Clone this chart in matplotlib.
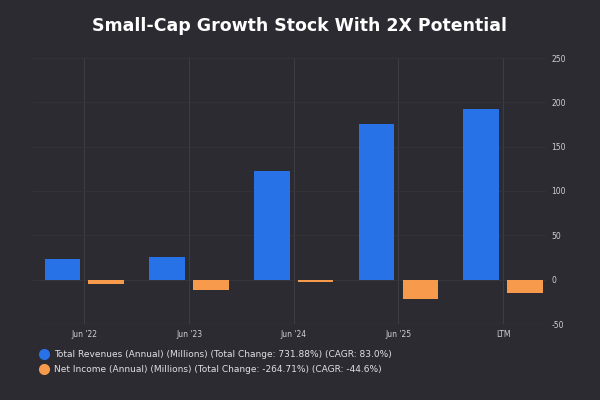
import matplotlib
matplotlib.use("Agg")
import matplotlib.pyplot as plt
import numpy as np
from matplotlib.lines import Line2D

categories = ["Jun '22", "Jun '23", "Jun '24", "Jun '25", "LTM"]
revenues = [23.5, 26, 122.5, 176, 193]
net_income = [-4.5, -12, -3, -21.5, -15]
yticks = [-50, 0, 50, 100, 150, 200, 250]

bg = "#2b2b31"
fig = plt.figure(figsize=(6, 4), dpi=100, facecolor=bg)
ax = fig.add_axes([0.055, 0.19, 0.855, 0.665], facecolor=bg)
x = np.arange(len(categories))
w = 0.34
ax.bar(x - 0.21, revenues, w, color="#2872e8", zorder=3)
ax.bar(x + 0.21, net_income, w, color="#f79a4c", zorder=3)
ax.set_xlim(-0.49, 4.41)
ax.set_ylim(-50, 250)
ax.set_xticks(x)
ax.set_xticklabels(categories, color="#cfcfd4", fontsize=5.5)
ax.set_yticks(yticks)
ax.set_yticklabels([str(v) for v in yticks], color="#cfcfd4", fontsize=5.5)
ax.yaxis.tick_right()
ax.tick_params(length=0, pad=4)
for s in ax.spines.values():
    s.set_visible(False)
ax.grid(axis="x", color="#3c3c44", lw=0.8, zorder=0)
ax.grid(axis="y", color="#34343b", lw=0.6, zorder=0)
ax.axhline(-50, color="#55555c", lw=0.8)
ax.axhline(0, color="#44444b", lw=0.6, zorder=1)

fig.text(0.5, 0.935, "Small-Cap Growth Stock With 2X Potential", ha="center",
         va="center", color="white", fontsize=12.5, fontweight="bold")
handles = [Line2D([], [], marker="o", ls="", color="#2872e8", markersize=7),
           Line2D([], [], marker="o", ls="", color="#f79a4c", markersize=7)]
labels = ["Total Revenues (Annual) (Millions) (Total Change: 731.88%) (CAGR: 83.0%)",
          "Net Income (Annual) (Millions) (Total Change: -264.71%) (CAGR: -44.6%)"]
leg = fig.legend(handles, labels, loc="lower left", bbox_to_anchor=(0.045, 0.045),
                 frameon=False, fontsize=6.5, labelcolor="#e0e0e4",
                 handletextpad=0.1, labelspacing=0.6)
fig.savefig("out.png", dpi=100, facecolor=bg)
